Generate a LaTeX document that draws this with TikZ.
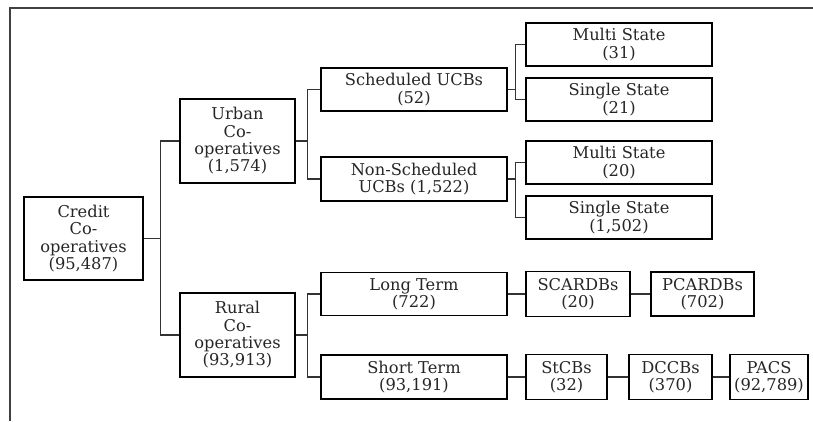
\documentclass[tikz,border=0pt]{standalone}
\usepackage{fontspec}
\setmainfont{DejaVu Serif}
\begin{document}
\begin{tikzpicture}[x=0.75pt, y=-0.75pt]
  \tikzset{
    unit/.style n args={2}{draw, line width=1.2pt, align=center, inner sep=1pt,
      font=\fontsize{12.2}{13}\selectfont, text=black!85,
      minimum width=#1*0.75pt, minimum height=#2*0.75pt},
    link/.style={line width=1pt, black!80},
    frame/.style={line width=1pt, black!75}
  }
  \useasboundingbox (0,0) rectangle (813,421);

  % ---- the cut-off frame: only its left and top edges show ----------------
  \draw[frame] (10,421) -- (10,8) -- (813,8);

  % ---- the units, one per box -----------------------------------------------
  % name / centre x / centre y / width / height / text
  \foreach \name/\cx/\cy/\w/\h/\txt in {%
    credit/83.5/238.5/119/83/{Credit\\Co-\\operatives\\(95,487)},
    urban/237.5/141/115/84/{Urban\\Co-\\operatives\\(1,574)},
    rural/237.5/335/115/84/{Rural\\Co-\\operatives\\(93,913)},
    sched/414/89.5/186/43/{Scheduled UCBs\\(52)},
    nonsched/414/179/186/44/{Non-Scheduled\\UCBs (1,522)},
    multiA/619/44.5/186/43/{Multi State\\(31)},
    singleA/619/99.5/186/43/{Single State\\(21)},
    multiB/619/162.5/186/43/{Multi State\\(20)},
    singleB/619/217.5/186/43/{Single State\\(1,502)},
    long/414/294/186/43/{Long Term\\(722)},
    short/414/377/186/44/{Short Term\\(93,191)},
    scardb/578/294/104/45/{SCARDBs\\(20)},
    pcardb/702.5/294/103/44/{PCARDBs\\(702)},
    stcb/566.5/377/81/45/{StCBs\\(32)},
    dccb/670.5/377/83/45/{DCCBs\\(370)},
    pacs/769/377/78/45/{PACS\\(92,789)}%
  }{
    \node[unit={\w}{\h}] (\name) at (\cx,\cy) {\txt};
  }

  % ---- forks: parent / child / distance to the riser -------------------------
  \foreach \up/\kid/\d in {credit/urban/17, credit/rural/17,
      urban/sched/12, urban/nonsched/12, rural/long/12, rural/short/12,
      sched/multiA/8, sched/singleA/8, nonsched/multiB/8, nonsched/singleB/8}
    \draw[link] (\up.east) -- ++(\d,0) |- (\kid.west);

  % ---- the two rural chains --------------------------------------------------
  \draw[link] (long) -- (scardb) -- (pcardb);
  \draw[link] (short) -- (stcb) -- (dccb) -- (pacs);
\end{tikzpicture}
\end{document}
